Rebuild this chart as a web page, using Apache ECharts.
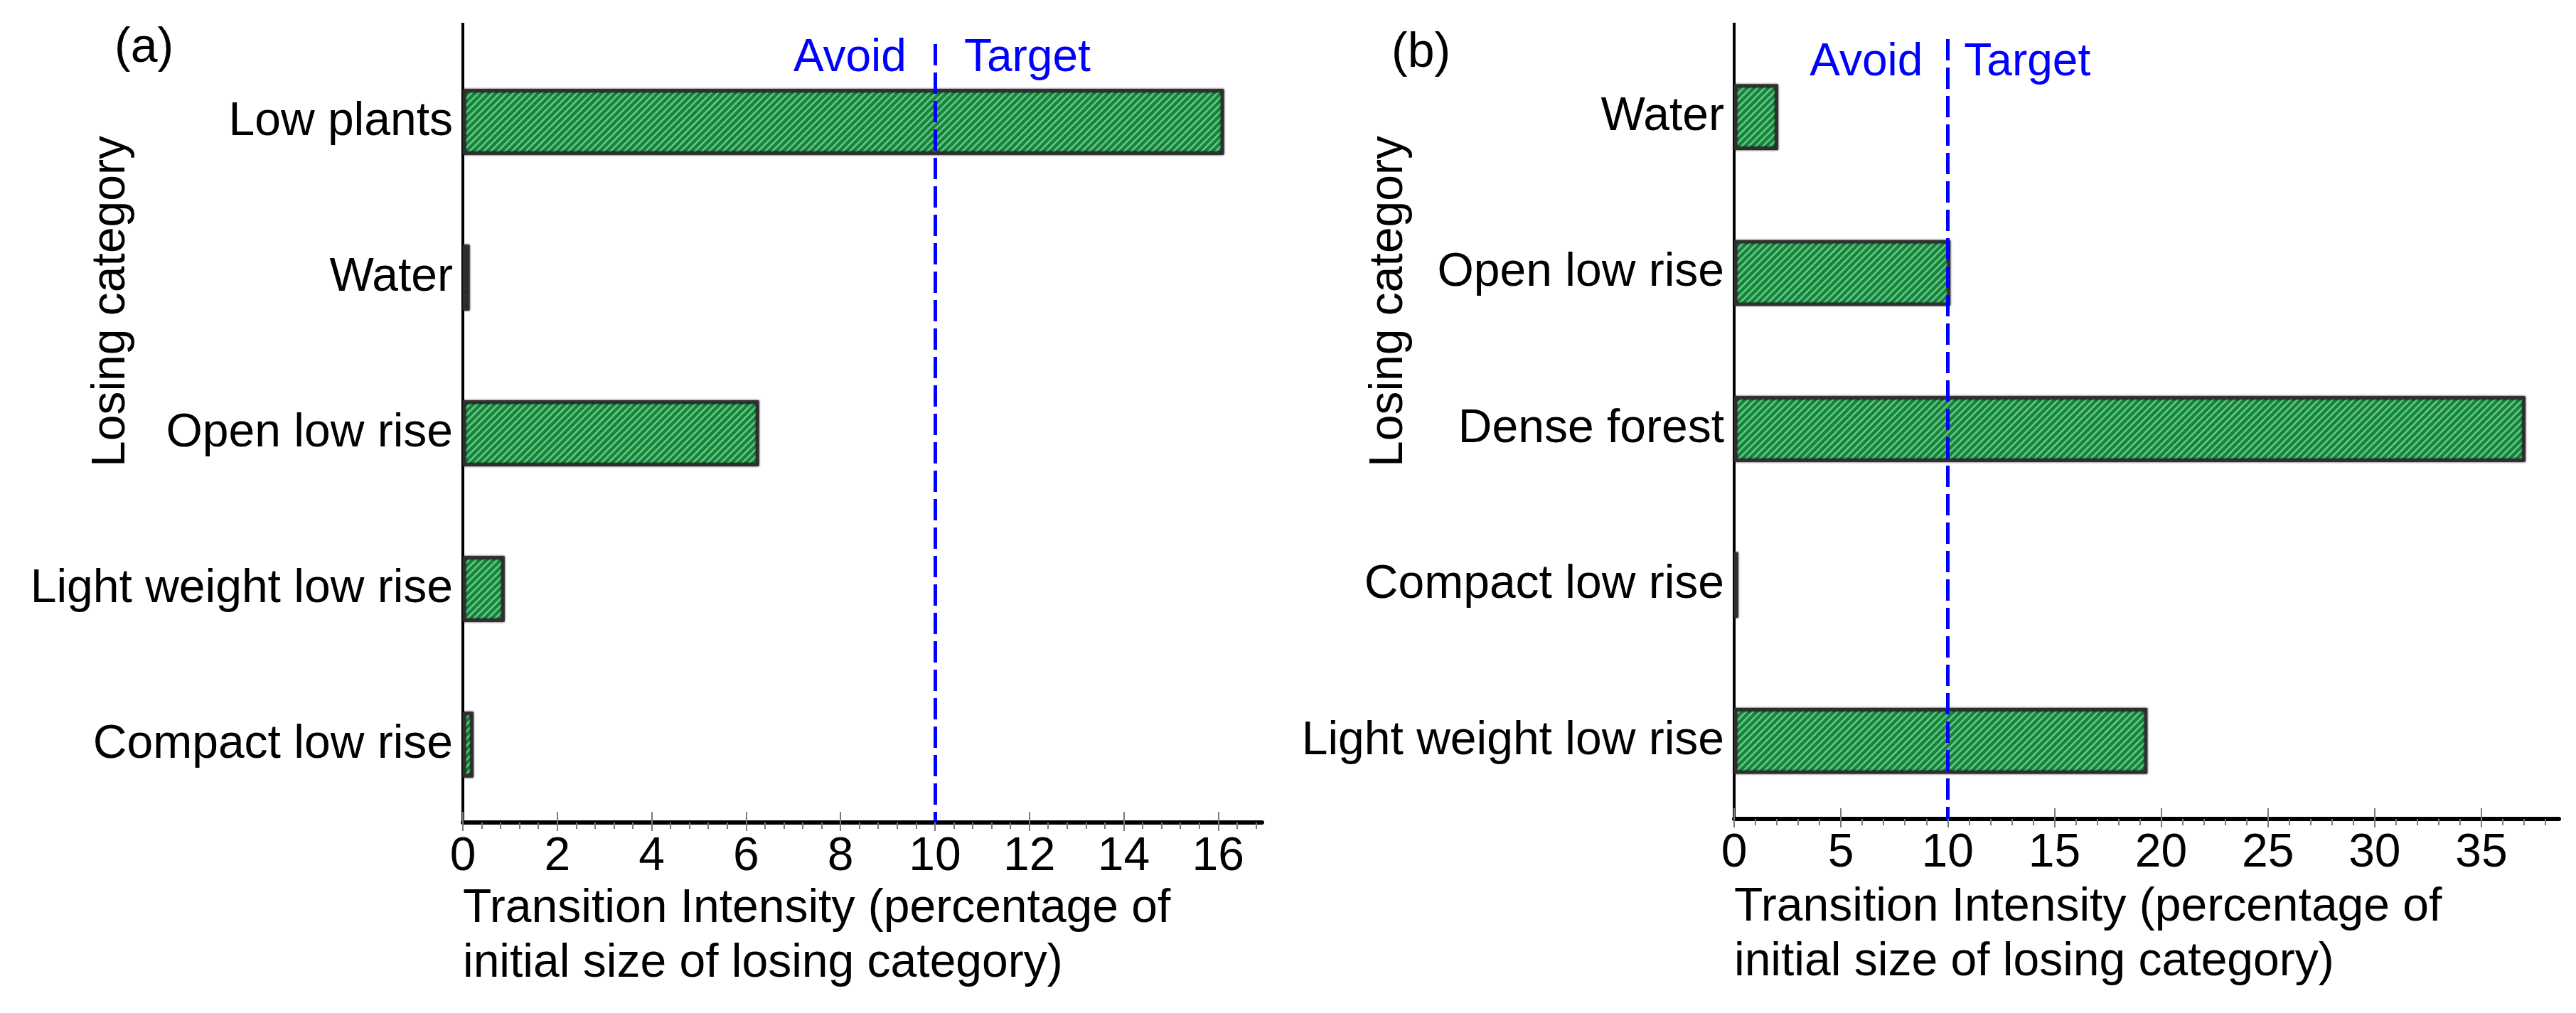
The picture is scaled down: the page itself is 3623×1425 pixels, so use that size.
<!DOCTYPE html>
<html><head><meta charset="utf-8">
<script src="https://cdn.jsdelivr.net/npm/echarts@6/dist/echarts.min.js"></script>
<style>html,body{margin:0;padding:0;background:#fff}#c{width:3623px;height:1425px}</style>
</head><body><div id="c"></div>
<script>
// ---- data ----
const catsA = ['Low plants', 'Water', 'Open low rise', 'Light weight low rise', 'Compact low rise'];
const valsA = [16.12, 0.14, 6.27, 0.88, 0.22];
const ticksA = [0, 2, 4, 6, 8, 10, 12, 14, 16];
const maxA = 16.93;
const thresholdA = 10;

const catsB = ['Water', 'Open low rise', 'Dense forest', 'Compact low rise', 'Light weight low rise'];
const valsB = [2.05, 10.12, 37.05, 0.18, 19.35];
const ticksB = [0, 5, 10, 15, 20, 25, 30, 35];
const maxB = 38.63;
const thresholdB = 10;

const xTitle = 'Transition Intensity (percentage of\ninitial size of losing category)';
const yTitle = 'Losing category';
const avoidText = 'Avoid', targetText = 'Target';

// ---- styles ----
const FONT = '"Liberation Sans", Arial, sans-serif';
const tickColor = '#7a7a7a';

function xAxesFor(gridIndex, max, ticks) {
  const interval = ticks[1] - ticks[0];
  return [{
    type: 'value', gridIndex, min: 0, max, interval, position: 'bottom',
    axisLine: { show: true, onZero: false, lineStyle: { color: '#000', width: 6 } },
    axisTick: { show: true, inside: true, length: 15, lineStyle: { color: tickColor, width: 2 }, customValues: ticks },
    axisLabel: { show: true, fontSize: 66, color: '#000', fontFamily: FONT, margin: 16, customValues: ticks,
      formatter: v => (ticks.indexOf(v) >= 0 ? String(v) : '') },
    splitLine: { show: false }
  }, {
    type: 'value', gridIndex, min: 0, max, interval, position: 'bottom',
    axisLine: { show: false },
    axisLabel: { show: false },
    axisTick: { show: true, inside: false, length: 12, lineStyle: { color: tickColor, width: 2 }, customValues: ticks },
    minorTick: { show: true, splitNumber: 5, length: 9, lineStyle: { color: tickColor, width: 2 } },
    splitLine: { show: false }
  }];
}

function yAxisFor(gridIndex, cats) {
  return {
    type: 'category', gridIndex, data: cats, inverse: true,
    axisLine: { show: true, lineStyle: { color: '#000', width: 4 } },
    axisTick: { show: false },
    axisLabel: { fontSize: 66, color: '#000', fontFamily: FONT, margin: 14, interval: 0 },
    splitLine: { show: false }
  };
}

const barStyle = {
  color: '#0ea544',
  borderColor: '#2f2f2f',
  borderWidth: 4,
  shadowColor: 'rgba(120,100,120,0.4)',
  shadowBlur: 3,
  decal: {
    symbol: 'rect', symbolSize: 1, rotation: -Math.PI / 4,
    dashArrayX: [[1, 0]], dashArrayY: [3, 4],
    color: 'rgba(140,228,165,0.75)'
  }
};

function barSeries(xi, yi, vals, thr) {
  return {
    type: 'bar', xAxisIndex: xi, yAxisIndex: yi, data: vals, barWidth: 92,
    itemStyle: barStyle, silent: true,
    markLine: {
      silent: true, symbol: ['none', 'none'], label: { show: false },
      lineStyle: { color: '#0000ff', width: 5, type: [30, 10] },
      data: [{ xAxis: thr }]
    }
  };
}

const chart = echarts.init(document.getElementById('c'), null, { renderer: 'canvas' });
const option = {
  backgroundColor: '#fff',
  animation: false,
  textStyle: { fontFamily: FONT },
  grid: [
    { left: 651, right: 3623 - 1775, top: 62, bottom: 1425 - 1157, containLabel: false, outerBoundsMode: 'none' },
    { left: 2439, right: 3623 - 3599, top: 55, bottom: 1425 - 1152, containLabel: false, outerBoundsMode: 'none' }
  ],
  xAxis: [...xAxesFor(0, maxA, ticksA), ...xAxesFor(1, maxB, ticksB)],
  yAxis: [yAxisFor(0, catsA), yAxisFor(1, catsB)],
  series: [barSeries(0, 0, valsA, thresholdA), barSeries(2, 1, valsB, thresholdB)]
};
chart.setOption(option);

const lineXA = chart.convertToPixel({ xAxisIndex: 0 }, thresholdA);
const lineXB = chart.convertToPixel({ xAxisIndex: 2 }, thresholdB);
const axisXA = chart.convertToPixel({ xAxisIndex: 0 }, 0);
const axisXB = chart.convertToPixel({ xAxisIndex: 2 }, 0);

function txt(text, x, y, opts) {
  return { type: 'text', x, y, silent: true, style: Object.assign({ text, fontSize: 66, fontFamily: FONT, fill: '#000', verticalAlign: 'middle' }, opts || {}) };
}
chart.setOption({
  graphic: [
    txt('(a)', 161, 68, { align: 'left', fontSize: 68 }),
    txt('(b)', 1957, 75, { align: 'left', fontSize: 68 }),
    Object.assign(txt(yTitle, 157, 424, { align: 'center' }), { rotation: Math.PI / 2 }),
    Object.assign(txt(yTitle, 1954, 424, { align: 'center' }), { rotation: Math.PI / 2 }),
    txt(xTitle, axisXA, 1240, { align: 'left', verticalAlign: 'top', lineHeight: 77 }),
    txt(xTitle, axisXB, 1238, { align: 'left', verticalAlign: 'top', lineHeight: 77 }),
    txt(avoidText, lineXA - 40, 82, { align: 'right', fill: '#0000ff', fontSize: 64 }),
    txt(targetText, lineXA + 41, 82, { align: 'left', fill: '#0000ff', fontSize: 64 }),
    txt(avoidText, lineXB - 35, 88, { align: 'right', fill: '#0000ff', fontSize: 64 }),
    txt(targetText, lineXB + 23, 88, { align: 'left', fill: '#0000ff', fontSize: 64 }),
    { type: 'line', silent: true, shape: { x1: axisXA, y1: 32, x2: axisXA, y2: 64 }, style: { stroke: '#000', lineWidth: 4 } },
    { type: 'line', silent: true, shape: { x1: axisXB, y1: 32, x2: axisXB, y2: 57 }, style: { stroke: '#000', lineWidth: 4 } }
  ]
});
</script>
</body></html>
